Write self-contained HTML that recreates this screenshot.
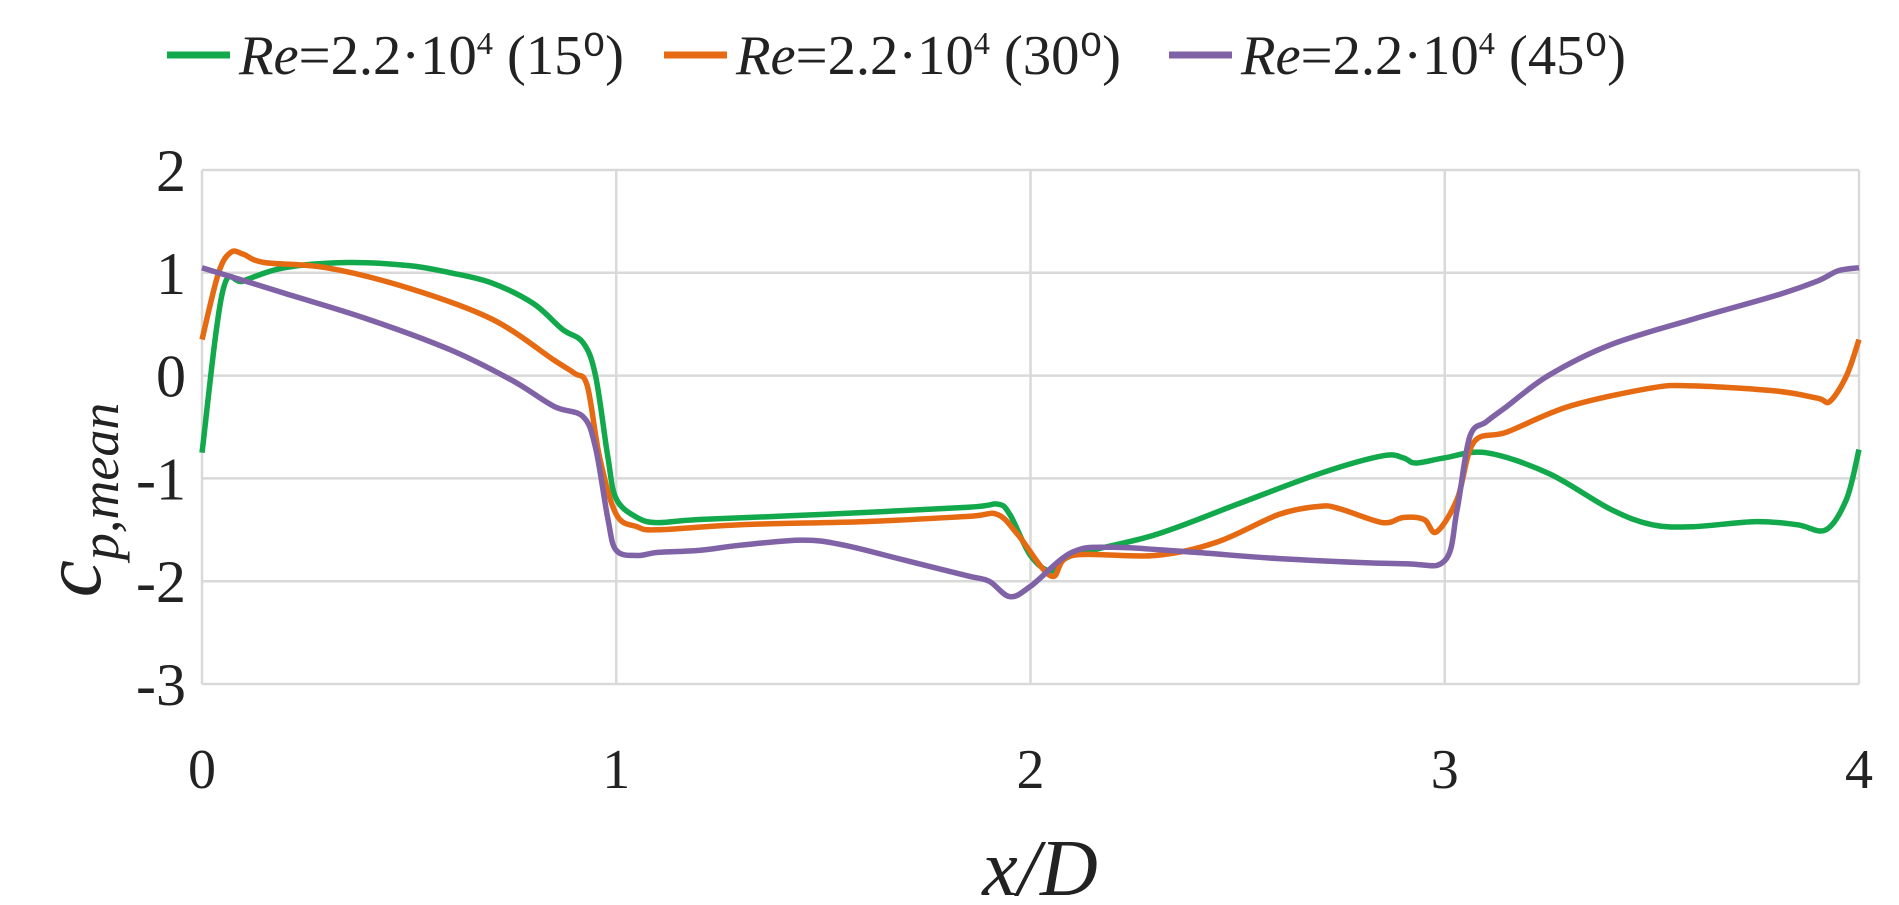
<!DOCTYPE html>
<html><head><meta charset="utf-8"><style>
html,body{margin:0;padding:0;background:#fff;}
svg{display:block;}
text{font-family:"Liberation Serif",serif;fill:#222;}
</style></head><body>
<svg id="chart" width="1899" height="905" viewBox="0 0 1899 905" xmlns="http://www.w3.org/2000/svg">
<g id="legend"></g>
<g id="grid"></g>
<g id="series"></g>
<g id="ticks"></g>
<text x="1040" y="895" font-size="80" font-style="italic" text-anchor="middle">x/D</text>
<text transform="translate(100,500) rotate(-90)" font-size="84" font-style="italic" text-anchor="middle">c<tspan font-size="54" dy="18">p,mean</tspan></text>
</svg>
<script>
const xTicks=[0,1,2,3,4];
const yTicks=[2,1,0,-1,-2,-3];
const seriesNames=["15⁰","30⁰","45⁰"];
const seriesColors=["#12a84c","#e56a12","#8062a6"];
const x15=[0,0.05,0.1,0.2,0.35,0.5,0.6,0.7,0.8,0.87,0.92,0.95,0.98,1.0,1.05,1.1,1.2,1.5,1.85,1.92,1.95,2.0,2.05,2.1,2.3,2.5,2.7,2.85,2.9,2.93,3.0,3.1,3.25,3.4,3.5,3.6,3.75,3.85,3.92,3.97,4.0];
const y15=[-0.75,0.82,0.92,1.05,1.1,1.07,1.0,0.9,0.7,0.45,0.32,0.0,-0.8,-1.2,-1.38,-1.43,-1.4,-1.35,-1.28,-1.25,-1.35,-1.75,-1.9,-1.75,-1.55,-1.25,-0.95,-0.78,-0.8,-0.85,-0.8,-0.75,-0.95,-1.3,-1.45,-1.47,-1.42,-1.45,-1.5,-1.2,-0.72];
const x30=[0,0.04,0.07,0.1,0.15,0.3,0.5,0.7,0.85,0.9,0.93,0.96,1.0,1.05,1.1,1.3,1.6,1.85,1.92,1.97,2.05,2.1,2.3,2.45,2.6,2.7,2.75,2.85,2.9,2.95,2.98,3.03,3.07,3.15,3.3,3.5,3.6,3.8,3.9,3.93,3.97,4.0];
const y30=[0.35,1.0,1.2,1.18,1.1,1.05,0.85,0.55,0.15,0.02,-0.1,-0.8,-1.35,-1.47,-1.5,-1.45,-1.42,-1.37,-1.35,-1.55,-1.95,-1.75,-1.75,-1.62,-1.35,-1.27,-1.3,-1.43,-1.38,-1.4,-1.52,-1.2,-0.65,-0.55,-0.3,-0.12,-0.1,-0.15,-0.22,-0.25,0.0,0.35];
const x45=[0,0.2,0.4,0.6,0.75,0.85,0.92,0.95,0.98,1.0,1.05,1.1,1.2,1.3,1.45,1.55,1.7,1.85,1.9,1.95,2.0,2.1,2.2,2.4,2.6,2.9,3.0,3.03,3.06,3.1,3.15,3.25,3.4,3.6,3.8,3.9,3.95,4.0];
const y45=[1.05,0.8,0.55,0.25,-0.05,-0.3,-0.4,-0.7,-1.4,-1.7,-1.75,-1.72,-1.7,-1.65,-1.6,-1.65,-1.8,-1.95,-2.0,-2.15,-2.05,-1.72,-1.67,-1.72,-1.78,-1.83,-1.8,-1.3,-0.6,-0.45,-0.3,0.0,0.3,0.55,0.78,0.92,1.02,1.05];

const X0=202,X1=1859,Y0=170,Y1=684;
function sx(v){return X0+(v-0)/(4-0)*(X1-X0);}
function sy(v){return Y0+(2-v)/(2-(-3))*(Y1-Y0);}
const NS="http://www.w3.org/2000/svg";
function mk(tag,parent){const e=document.createElementNS(NS,tag);parent.appendChild(e);return e;}
const grid=document.getElementById('grid'),ticks=document.getElementById('ticks'),ser=document.getElementById('series'),leg=document.getElementById('legend');
yTicks.forEach(t=>{
  const l=mk('line',grid);
  
  
  l.setAttribute('x1',X0);l.setAttribute('x2',X1);l.setAttribute('y1',sy(t));l.setAttribute('y2',sy(t));
  l.setAttribute('stroke','#d9d9d9');l.setAttribute('stroke-width','2.5');
  const tx=mk('text',ticks);
  
  
  tx.setAttribute('x',186);tx.setAttribute('y',sy(t)+21);tx.setAttribute('font-size','60');tx.setAttribute('text-anchor','end');
  tx.textContent=t;
});
xTicks.forEach(t=>{
  const l=mk('line',grid);
  
  
  l.setAttribute('x1',sx(t));l.setAttribute('x2',sx(t));l.setAttribute('y1',Y0);l.setAttribute('y2',Y1);
  l.setAttribute('stroke','#d9d9d9');l.setAttribute('stroke-width','2.5');
  const tx=mk('text',ticks);
  
  
  tx.setAttribute('x',sx(t));tx.setAttribute('y',788);tx.setAttribute('font-size','56');tx.setAttribute('text-anchor','middle');
  tx.textContent=t;
});
function smooth(xs,ys){
  const p=xs.map((x,i)=>[sx(x),sy(ys[i])]);
  let d='M'+p[0][0].toFixed(1)+','+p[0][1].toFixed(1);
  for(let i=0;i<p.length-1;i++){
    const a=p[Math.max(i-1,0)],b=p[i],c=p[i+1],e=p[Math.min(i+2,p.length-1)];
    const c1=[b[0]+(c[0]-a[0])/6,b[1]+(c[1]-a[1])/6],c2=[c[0]-(e[0]-b[0])/6,c[1]-(e[1]-b[1])/6];
    d+='C'+c1[0].toFixed(1)+','+c1[1].toFixed(1)+' '+c2[0].toFixed(1)+','+c2[1].toFixed(1)+' '+c[0].toFixed(1)+','+c[1].toFixed(1);
  }
  return d;
}
const data=[[x15,y15],[x30,y30],[x45,y45]];
const slugs=['15','30','45'];
data.forEach((s,i)=>{
  const p=mk('path',ser);
  
  
  p.setAttribute('d',smooth(s[0],s[1]));p.setAttribute('fill','none');
  p.setAttribute('stroke',seriesColors[i]);p.setAttribute('stroke-width','5.5');p.setAttribute('stroke-linejoin','round');
});
const legX=[167,664,1169];
seriesNames.forEach((n,i)=>{
  const g=mk('g',leg);
  
  
  const l=mk('line',g);
  l.setAttribute('x1',legX[i]);l.setAttribute('x2',legX[i]+63);l.setAttribute('y1',55);l.setAttribute('y2',55);
  l.setAttribute('stroke',seriesColors[i]);l.setAttribute('stroke-width','7');
  const t=mk('text',g);
  t.setAttribute('x',legX[i]+72);t.setAttribute('y',74);t.setAttribute('font-size','56');
  t.setAttribute('textLength','385');t.setAttribute('lengthAdjust','spacingAndGlyphs');
  t.innerHTML='<tspan font-style="italic">Re</tspan>=2.2·10<tspan font-size="32" dy="-20">4</tspan><tspan dy="20"> ('+n+')</tspan>';
});
</script>
</body></html>
